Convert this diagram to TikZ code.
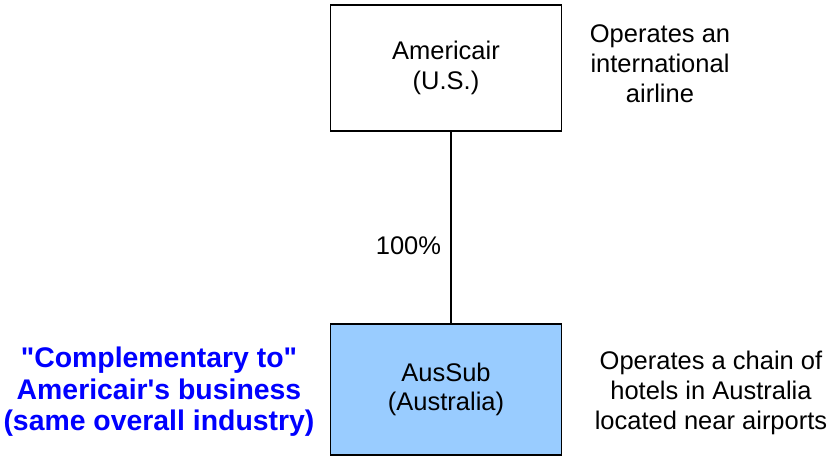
\documentclass[tikz,border=0pt]{standalone}
\usepackage{fontspec}
\setmainfont{Liberation Sans}
\definecolor{subblue}{RGB}{153,204,255}
\definecolor{noteblue}{RGB}{0,0,255}

\begin{document}
\begin{tikzpicture}[x=1pt, y=1pt,
		entity/.style={draw=black, line width=1.5pt, minimum width=231pt, minimum height=126pt, align=center, font={\fontsize{25.5}{29.5}\selectfont}},
		note/.style={align=center, inner sep=0pt, font={\fontsize{25.5}{30}\selectfont}},
		remark/.style={align=center, inner sep=0pt, text=noteblue, font={\bfseries\fontsize{28.4}{31.5}\selectfont}}]
			%%%%% START %%%%%
			\useasboundingbox (0, 0) rectangle (836, -457);
			
			\node[entity] (americair) at (446, -68) {Americair\\(U.S.)};
			\node[entity, fill=subblue, minimum height=131pt] (aussub) at (446, -389.5) {AusSub\\(Australia)};
			
			\draw[line width=1.2pt] ([xshift=5pt]americair.south) -- ([xshift=5pt]aussub.north);
			\node[note] (share) at (408.5, -246) {100\%};
			
			\node[note] (airline) at (660, -64) {Operates an\\international\\airline};
			\node[note] (hotels) at (711, -393) {Operates a chain of\\hotels in Australia\\located near airports};
			
			\node[remark] (complement) at (159, -392) {\textquotedbl Complementary to\textquotedbl\\Americair\textquotesingle s business\\(same overall industry)};
			%%%%% END %%%%%
		\end{tikzpicture}
\end{document}
